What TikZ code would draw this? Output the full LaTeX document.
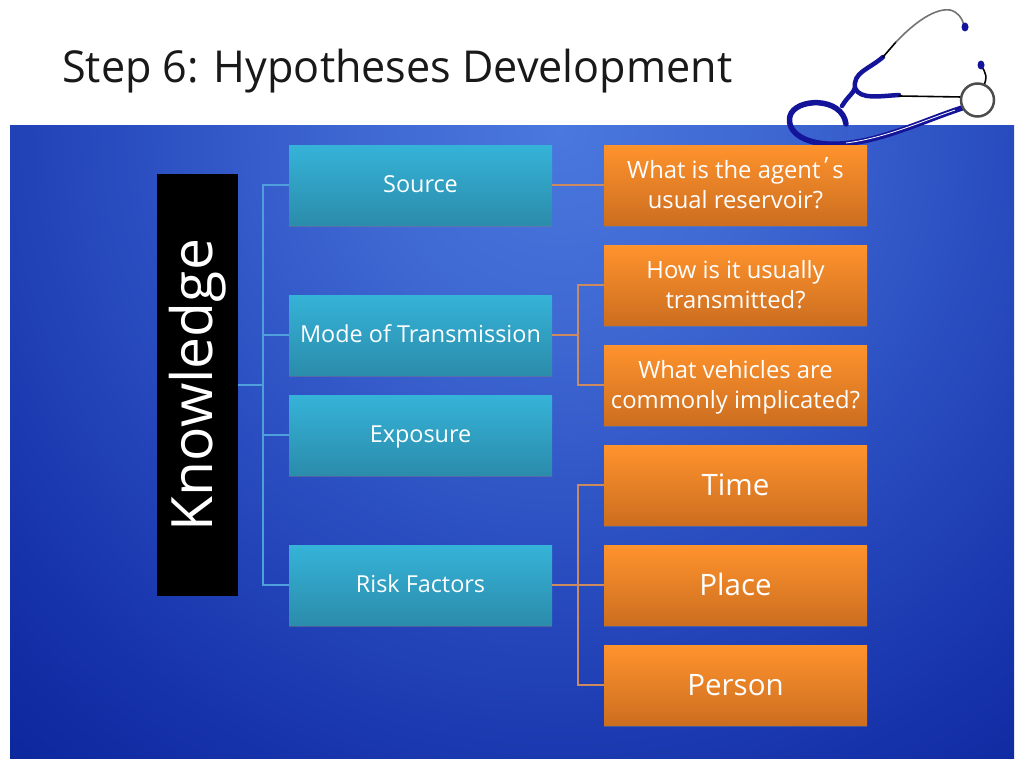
\documentclass[tikz,border=0pt]{standalone}
\usepackage{fontspec}
\setmainfont{Open Sans}
\newfontfamily\titlefont[FakeStretch=0.98]{Open Sans}
\usetikzlibrary{shadows}
\definecolor{tealtop}{HTML}{35B3D8}
\definecolor{tealbot}{HTML}{2B8CAB}
\definecolor{orangetop}{HTML}{FF932D}
\definecolor{orangebot}{HTML}{CC6E20}
\definecolor{trunkline}{HTML}{4F9FDC}
\definecolor{branchline}{HTML}{CC8A5E}
\definecolor{tubeblue}{HTML}{14149A}
\pgfdeclareradialshading{slideglow}{\pgfpoint{0bp}{0bp}}{%
  rgb(0bp)=(0.29,0.47,0.87);rgb(6.5bp)=(0.24,0.40,0.82);rgb(13bp)=(0.16,0.30,0.75);
  rgb(20bp)=(0.09,0.20,0.67);rgb(26bp)=(0.04,0.14,0.60);rgb(50bp)=(0.04,0.12,0.58)}
\tikzset{
  basebox/.style={minimum width=263pt,minimum height=80pt,inner sep=0pt,outer sep=0pt,
    text=white,align=center,execute at end node=\rule[-9pt]{0pt}{9pt},
    drop shadow={shadow xshift=0pt,shadow yshift=-2pt,opacity=.45}},
  tealbox/.style={basebox,top color=tealtop,bottom color=tealbot,
    font=\fontsize{23.4}{30}\selectfont,execute at begin node=\rule{0pt}{24.5pt}},
  orangebox/.style={basebox,top color=orangetop,bottom color=orangebot,
    font=\fontsize{23.8}{30}\selectfont,execute at begin node=\rule{0pt}{56pt}},
  bigorange/.style={basebox,top color=orangetop,bottom color=orangebot,
    font=\fontsize{29.5}{36}\selectfont,execute at begin node=\rule{0pt}{29pt}},
  trunk/.style={trunkline,line width=1.2pt},
  branch/.style={branchline,line width=1.2pt},
  tube/.style={tubeblue,line width=5.5pt,line cap=round},
  wire/.style={line width=1.6pt,line cap=round}
}
\begin{document}
\begin{tikzpicture}[x=1pt,y=-1pt]
  \useasboundingbox (0,0) rectangle (1024,768);
  \fill[white] (0,0) rectangle (1024,768);
  % panel
  \begin{scope}
    \clip (10,125) rectangle (1014,758);
    \shade[shading=slideglow] (560,130) circle (850);
  \end{scope}
  \node[anchor=west,inner sep=0pt,font=\titlefont\fontsize{44}{50}\selectfont,text=black!90] (title) at (62,71) {Step 6: Hypotheses Development};
  % stethoscope
  \draw[tube] (962,108) .. controls (925,120) and (880,142) .. (840,144)
    .. controls (805,146) and (786,132) .. (790,116)
    .. controls (795,98) and (842,96) .. (846,124);
  \draw[tube,line width=4.5pt] (842,106) .. controls (848,96) and (853,94) .. (855,88)
    .. controls (853,72) and (868,70) .. (883,57);
  \draw[tube,line width=4.5pt] (855,88) .. controls (860,100) and (880,96) .. (899,95);
  \draw[white,line width=.8pt] (846,143) .. controls (885,138) and (920,122) .. (955,110);
  \draw[wire,black] (899,96) -- (962,97);
  \draw[wire,black] (883,57) -- (896,42);
  \draw[wire,black!55] (896,42) .. controls (915,22) and (935,8) .. (950,10) .. controls (958,12) and (962,18) .. (964,25);
  \draw[wire,black] (983,87) .. controls (988,78) and (986,72) .. (981,66);
  \fill[tubeblue] (965,27) ellipse (3.5 and 4.5);
  \fill[tubeblue] (981,65) ellipse (3.5 and 4.5);
  \draw[black!70,line width=2.5pt,fill=white] (977.5,100) circle (16.5);
  % boxes
  \node[fill=black,text=white,minimum width=422pt,minimum height=81pt,inner sep=0pt,rotate=90,
    font=\fontsize{57}{64}\selectfont] (know) at (197.5,385) {Knowledge};
  \node[tealbox] (source) at (420.5,185) {Source};
  \node[tealbox] (mode) at (420.5,335) {Mode of Transmission};
  \node[tealbox] (expo) at (420.5,435) {Exposure};
  \node[tealbox] (risk) at (420.5,585) {Risk Factors};
  \node[orangebox] (reservoir) at (735.5,185) {What is the agent\kern4pt\raisebox{4pt}{’}\kern4pt s\\usual reservoir?};
  \node[orangebox] (how) at (735.5,285) {How is it usually\\transmitted?};
  \node[orangebox] (vehicles) at (735.5,385) {What vehicles are\\commonly implicated?};
  \node[bigorange] (time) at (735.5,485) {Time};
  \node[bigorange] (place) at (735.5,585) {Place};
  \node[bigorange] (person) at (735.5,685) {Person};
  % connectors
  \draw[trunk] (know.south) -- (263,385) |- (source.west);
  \draw[trunk] (263,385) |- (mode.west);
  \draw[trunk] (263,385) |- (expo.west);
  \draw[trunk] (263,385) |- (risk.west);
  \draw[branch] (source.east) -- (reservoir.west);
  \draw[branch] (mode.east) -- ++(26,0) |- (how.west);
  \draw[branch] (mode.east) -- ++(26,0) |- (vehicles.west);
  \draw[branch] (risk.east) -- ++(26,0) |- (time.west);
  \draw[branch] (risk.east) -- (place.west);
  \draw[branch] (risk.east) -- ++(26,0) |- (person.west);
\end{tikzpicture}
\end{document}
